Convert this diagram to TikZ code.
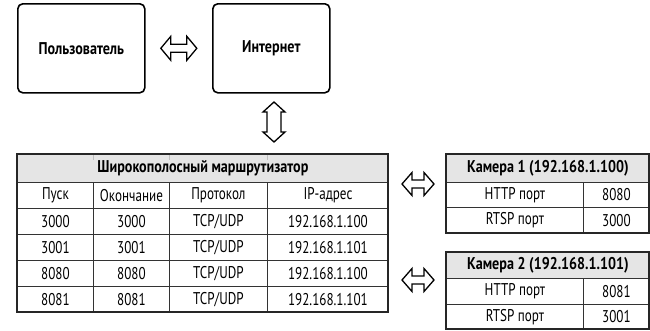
\documentclass[tikz,border=0pt]{standalone}
\usepackage{fontspec}
\setmainfont{PT Sans}[FakeStretch=0.77, BoldFeatures={FakeStretch=0.83}]
\usetikzlibrary{calc}
\begin{document}
\begin{tikzpicture}[x=1pt,y=-1pt,
  box/.style={draw=black, line width=1.6pt, rounded corners=5pt, anchor=north west, inner sep=0pt, font=\fontsize{17}{19}\selectfont\bfseries},
  cell/.style={draw=black!80, line width=0.9pt, anchor=north west, inner sep=0pt, font=\fontsize{17}{19}\selectfont},
  hcell/.style={cell, fill=black!10, font=\fontsize{17}{19}\selectfont\bfseries},
  blk/.style={draw=black, line width=1.3pt, fill=white, line join=miter}]
\useasboundingbox (0,0) rectangle (650,330);
% boxes
\node[box, minimum width=127pt, minimum height=89pt] (user) at (17,3) {Пользователь};
\node[box, minimum width=117pt, minimum height=89pt] (inet) at (212,3) {Интернет};
% router table
\node[hcell, minimum width=371pt, minimum height=28pt] (rh) at (17,154) {Широкополосный маршрутизатор};
\foreach \x/\y in {93/154,169/154,267/154}{\draw[black!25, line width=0.5pt] (\x,\y+1) -- (\x,\y+6);}
\foreach \r/\yy/\a/\b/\c/\d in {0/182/Пуск/Окончание/Протокол/IP-адрес,
  1/208/3000/3000/TCP\slash UDP/192.168.1.100,
  2/234/3001/3001/TCP\slash UDP/192.168.1.101,
  3/260/8080/8080/TCP\slash UDP/192.168.1.100,
  4/286/8081/8081/TCP\slash UDP/192.168.1.101}{
  \node[cell, minimum width=76pt, minimum height=26pt] (r\r a) at (17,\yy) {\a};
  \node[cell, minimum width=76pt, minimum height=26pt] (r\r b) at (93,\yy) {\b};
  \node[cell, minimum width=98pt, minimum height=26pt] (r\r c) at (169,\yy) {\c};
  \node[cell, minimum width=121pt, minimum height=26pt] (r\r d) at (267,\yy) {\d};
}
\draw[black!85, line width=1.4pt] (17,154) rectangle (388,312);
% camera 1
\node[hcell, minimum width=203pt, minimum height=28pt] (c1h) at (446,154) {Камера 1 (192.168.1.100)};
\node[cell, minimum width=137pt, minimum height=25pt] (c1a) at (446,182) {HTTP порт};
\node[cell, minimum width=66pt, minimum height=25pt] (c1b) at (583,182) {8080};
\node[cell, minimum width=137pt, minimum height=26pt] (c1c) at (446,207) {RTSP порт};
\node[cell, minimum width=66pt, minimum height=26pt] (c1d) at (583,207) {3000};
\draw[black!85, line width=1.4pt] (446,154) rectangle (649,233);
% camera 2
\node[hcell, minimum width=203pt, minimum height=26pt] (c2h) at (446,252) {Камера 2 (192.168.1.101)};
\node[cell, minimum width=137pt, minimum height=26pt] (c2a) at (446,278) {HTTP порт};
\node[cell, minimum width=66pt, minimum height=26pt] (c2b) at (583,278) {8081};
\node[cell, minimum width=137pt, minimum height=25pt] (c2c) at (446,304) {RTSP порт};
\node[cell, minimum width=66pt, minimum height=25pt] (c2d) at (583,304) {3001};
\draw[black!85, line width=1.4pt] (446,252) rectangle (649,329);
% block arrows
\coordinate (a1) at ($(user.east)!0.5!(inet.west)$);
\coordinate (a2) at (274,122);
\coordinate (a3) at (418,184);
\coordinate (a4) at (418,280);
\foreach \c/\L/\H in {a1/18/12, a3/16/11.5, a4/16/11.5}{
  \draw[blk] ([shift={(-\L,0)}]\c) -- ++(10,-\H) -- ++(0,\H-4) -- ++(2*\L-20,0) -- ++(0,-\H+4) -- ++(10,\H) -- ++(-10,\H) -- ++(0,-\H+4) -- ++(-2*\L+20,0) -- ++(0,\H-4) -- cycle;
}
\draw[blk] ([shift={(0,-20)}]a2) -- ++(11,10) -- ++(-4,0) -- ++(0,20) -- ++(4,0) -- ++(-11,10) -- ++(-11,-10) -- ++(4,0) -- ++(0,-20) -- ++(-4,0) -- cycle;
\end{tikzpicture}
\end{document}
